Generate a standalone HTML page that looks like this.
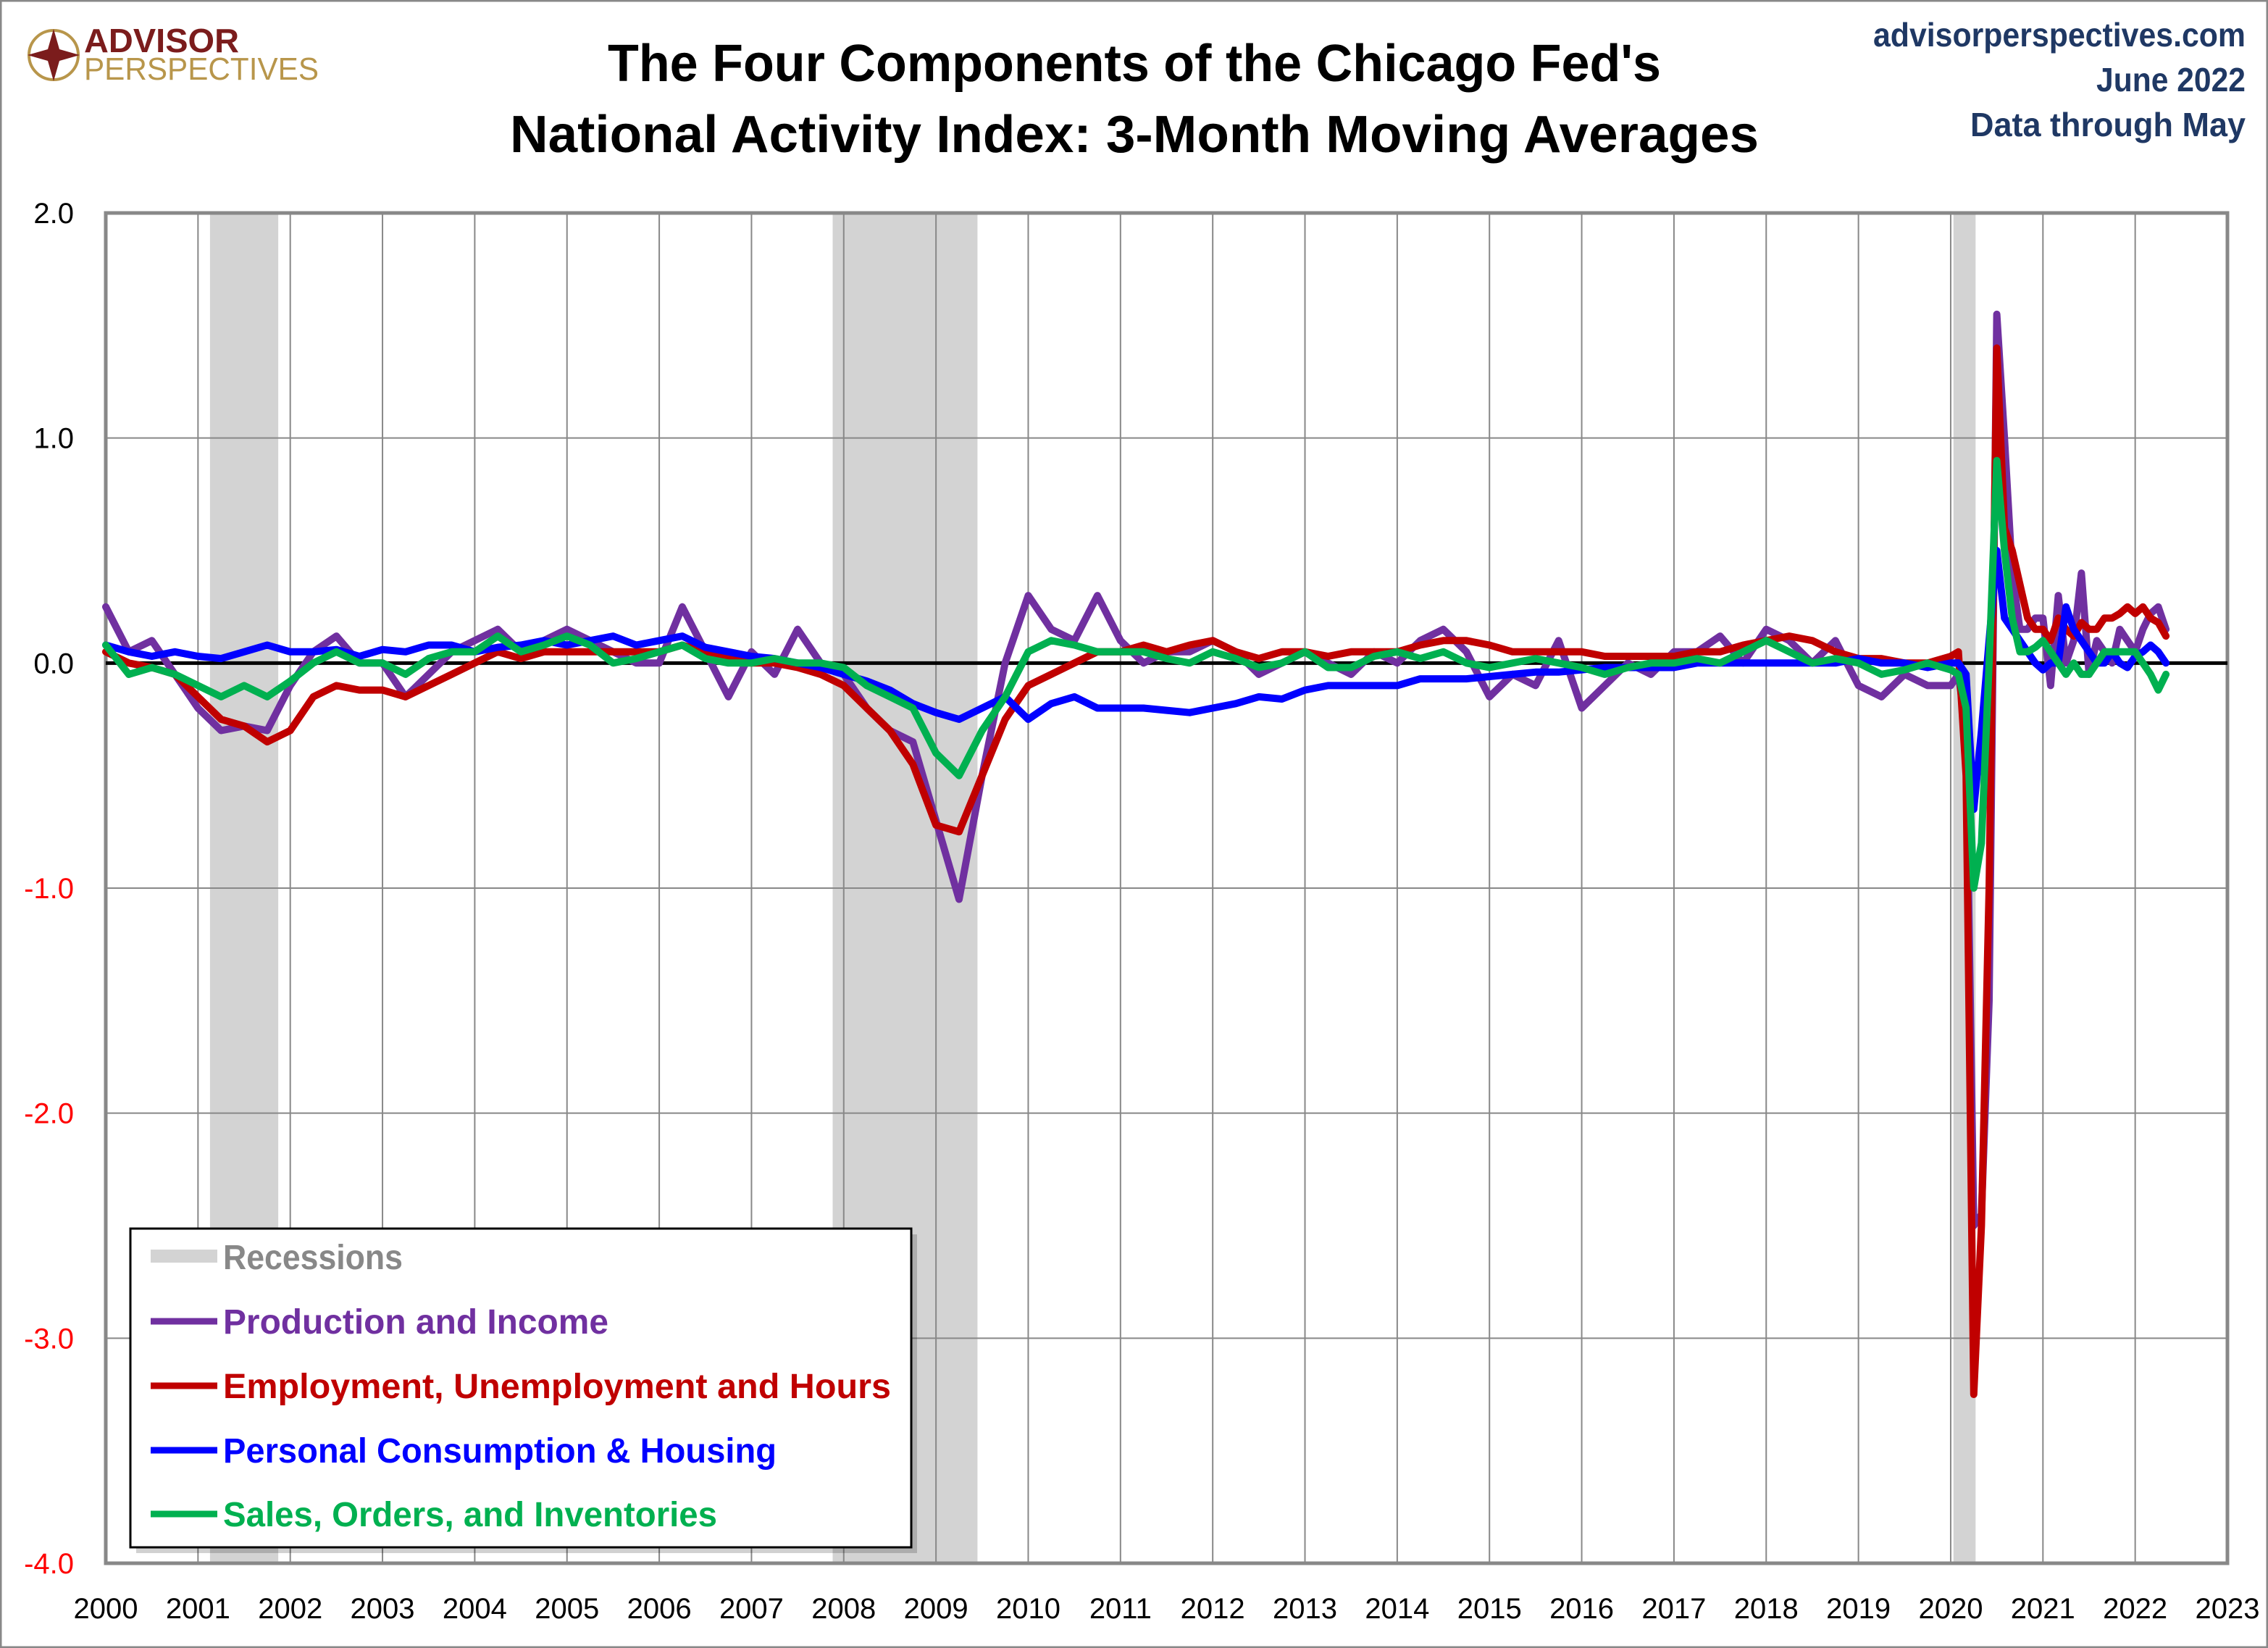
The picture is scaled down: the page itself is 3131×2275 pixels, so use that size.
<!DOCTYPE html>
<html><head><meta charset="utf-8"><style>
html,body{margin:0;padding:0;background:#fff}
svg{display:block}
text{font-family:"Liberation Sans",sans-serif}
</style></head><body>
<svg id="chart" width="3131" height="2275" viewBox="0 0 3131 2275" xmlns="http://www.w3.org/2000/svg">
<rect x="1" y="1" width="3129" height="2273" fill="#fff" stroke="#888" stroke-width="3"/>
<g>
<circle cx="74" cy="76" r="34" fill="none" stroke="#B8964B" stroke-width="4"/>
<polygon points="74,40 82,68 110,76 82,84 74,112 66,84 38,76 66,68" fill="#7B1C1C"/>
<text x="116" y="72" font-size="46" font-weight="bold" fill="#7B1C1C" textLength="214" lengthAdjust="spacingAndGlyphs">ADVISOR</text>
<text x="116" y="110" font-size="44" fill="#B8964B" textLength="324" lengthAdjust="spacingAndGlyphs">PERSPECTIVES</text>
</g>
<text x="1566" y="112" font-size="72" font-weight="bold" text-anchor="middle" textLength="1454" lengthAdjust="spacingAndGlyphs">The Four Components of the Chicago Fed's</text>
<text x="1566" y="210" font-size="72" font-weight="bold" text-anchor="middle" textLength="1724" lengthAdjust="spacingAndGlyphs">National Activity Index: 3-Month Moving Averages</text>
<text x="3100" y="64" font-size="46" font-weight="bold" fill="#1F3864" text-anchor="end" textLength="514" lengthAdjust="spacingAndGlyphs">advisorperspectives.com</text>
<text x="3100" y="126" font-size="46" font-weight="bold" fill="#1F3864" text-anchor="end" textLength="206" lengthAdjust="spacingAndGlyphs">June 2022</text>
<text x="3100" y="188" font-size="46" font-weight="bold" fill="#1F3864" text-anchor="end" textLength="380" lengthAdjust="spacingAndGlyphs">Data through May</text>
<g id="plot"></g>
<g>
<rect x="188" y="1704" width="1078" height="440" fill="#000" opacity="0.18"/>
<rect x="180" y="1696" width="1078" height="440" fill="#fff" stroke="#000" stroke-width="3"/>
<g><line x1="208" y1="1734" x2="300" y2="1734" stroke="#d3d3d3" stroke-width="18"/><text x="308" y="1752" font-size="48" font-weight="bold" fill="#888" textLength="248" lengthAdjust="spacingAndGlyphs">Recessions</text></g>
<g><line x1="208" y1="1824" x2="300" y2="1824" stroke="#7030A0" stroke-width="9"/><text x="308" y="1841" font-size="48" font-weight="bold" fill="#7030A0" textLength="532" lengthAdjust="spacingAndGlyphs">Production and Income</text></g>
<g><line x1="208" y1="1913" x2="300" y2="1913" stroke="#C00000" stroke-width="9"/><text x="308" y="1930" font-size="48" font-weight="bold" fill="#C00000" textLength="922" lengthAdjust="spacingAndGlyphs">Employment, Unemployment and Hours</text></g>
<g><line x1="208" y1="2002" x2="300" y2="2002" stroke="#0000FF" stroke-width="9"/><text x="308" y="2019" font-size="48" font-weight="bold" fill="#0000FF" textLength="764" lengthAdjust="spacingAndGlyphs">Personal Consumption &amp; Housing</text></g>
<g><line x1="208" y1="2090" x2="300" y2="2090" stroke="#00B050" stroke-width="9"/><text x="308" y="2107" font-size="48" font-weight="bold" fill="#00B050" textLength="682" lengthAdjust="spacingAndGlyphs">Sales, Orders, and Inventories</text></g>
</g>
</svg>
<script>
const recessionStarts=[2001.13,2007.88,2020.03];
const recessionEnds=[2001.87,2009.45,2020.27];
const yTicks=[2,1,0,-1,-2,-3,-4];
const yTickLabels=["2.0","1.0","0.0","-1.0","-2.0","-3.0","-4.0"];
const xYears=[2000,2001,2002,2003,2004,2005,2006,2007,2008,2009,2010,2011,2012,2013,2014,2015,2016,2017,2018,2019,2020,2021,2022,2023];
const production=[0.25,0.05,0.1,-0.05,-0.2,-0.3,-0.28,-0.3,-0.1,0.05,0.12,0.0,0.0,-0.15,-0.05,0.05,0.1,0.15,0.05,0.1,0.15,0.1,0.05,0.0,0.0,0.25,0.05,-0.15,0.05,-0.05,0.15,0.0,-0.05,-0.2,-0.3,-0.35,-0.7,-1.05,-0.5,0.0,0.3,0.15,0.1,0.3,0.1,0.0,0.05,0.05,0.1,0.05,-0.05,0.0,0.05,0.0,-0.05,0.05,0.0,0.1,0.15,0.05,-0.15,-0.05,-0.1,0.1,-0.2,-0.1,0.0,-0.05,0.05,0.05,0.12,0.0,0.15,0.1,0.0,0.1,-0.1,-0.15,-0.05,-0.1,
-0.1,-0.05,-0.3,-2.5,-2.45,-1.5,1.55,1.0,0.4,0.15,0.15,0.2,0.2,-0.1,0.3,0.0,0.1,0.4,-0.05,0.1,0.05,0.0,0.15,0.1,0.05,0.15,0.22,0.25,0.15];
const employment=[0.05,0.0,-0.02,-0.05,-0.15,-0.25,-0.28,-0.35,-0.3,-0.15,-0.1,-0.12,-0.12,-0.15,-0.1,-0.05,0.0,0.05,0.02,0.05,0.05,0.05,0.05,0.05,0.05,0.08,0.05,0.02,0.0,0.0,-0.02,-0.05,-0.1,-0.2,-0.3,-0.45,-0.72,-0.75,-0.5,-0.25,-0.1,-0.05,0.0,0.05,0.05,0.08,0.05,0.08,0.1,0.05,0.02,0.05,0.05,0.03,0.05,0.05,0.05,0.08,0.1,0.1,0.08,0.05,0.05,0.05,0.05,0.03,0.03,0.03,0.03,0.05,0.05,0.08,0.1,0.12,0.1,0.05,0.02,0.02,0.0,0.0,
0.03,0.05,-0.5,-3.25,-2.5,-1.0,1.4,0.6,0.5,0.35,0.2,0.15,0.15,0.1,0.2,0.15,0.12,0.18,0.15,0.15,0.2,0.2,0.22,0.25,0.22,0.25,0.2,0.18,0.12];
const consumption=[0.08,0.05,0.03,0.05,0.03,0.02,0.05,0.08,0.05,0.05,0.06,0.03,0.06,0.05,0.08,0.08,0.05,0.07,0.08,0.1,0.08,0.1,0.12,0.08,0.1,0.12,0.07,0.05,0.03,0.02,0.0,-0.02,-0.05,-0.08,-0.12,-0.18,-0.22,-0.25,-0.2,-0.15,-0.25,-0.18,-0.15,-0.2,-0.2,-0.2,-0.21,-0.22,-0.2,-0.18,-0.15,-0.16,-0.12,-0.1,-0.1,-0.1,-0.1,-0.07,-0.07,-0.07,-0.06,-0.05,-0.04,-0.04,-0.03,-0.02,-0.02,-0.02,-0.02,0.0,0.0,0.0,0.0,0.0,0.0,0.0,0.02,0.0,0.0,-0.02,
0.0,0.0,-0.05,-0.65,-0.3,0.1,0.5,0.2,0.15,0.1,0.05,0.0,-0.03,0.0,0.0,0.25,0.15,0.1,0.05,0.0,0.0,0.05,0.0,-0.02,0.03,0.05,0.08,0.05,0.0];
const sales=[0.08,-0.05,-0.02,-0.05,-0.1,-0.15,-0.1,-0.15,-0.08,0.0,0.05,0.0,0.0,-0.05,0.02,0.05,0.05,0.12,0.05,0.08,0.12,0.08,0.0,0.02,0.05,0.08,0.02,0.0,0.0,0.02,0.0,0.0,-0.02,-0.1,-0.15,-0.2,-0.4,-0.5,-0.3,-0.15,0.05,0.1,0.08,0.05,0.05,0.05,0.02,0.0,0.05,0.02,-0.02,0.0,0.05,-0.02,-0.02,0.03,0.05,0.02,0.05,0.0,-0.02,0.0,0.02,0.0,-0.02,-0.05,-0.02,0.0,0.0,0.02,0.0,0.05,0.1,0.05,0.0,0.02,0.0,-0.05,-0.03,0.0,
-0.03,-0.05,-0.2,-1.0,-0.8,0.0,0.9,0.5,0.2,0.05,0.05,0.07,0.1,0.05,0.0,-0.05,0.0,-0.05,-0.05,0.0,0.05,0.05,0.05,0.05,0.05,0.0,-0.05,-0.12,-0.05];
// dates: quarterly 2000-2019, monthly 2020-Jan to 2022-May
const dates=[];
for(let i=0;i<80;i++) dates.push(2000+i*0.25);
for(let i=0;i<29;i++) dates.push(2020+i/12);

const NS="http://www.w3.org/2000/svg";
const L=146,R=3075,T=294,B=2158,X0=2000,X1=2023,YMAX=2,YMIN=-4;
const xs=v=>L+(v-X0)/(X1-X0)*(R-L);
const ys=v=>T+(YMAX-v)/(YMAX-YMIN)*(B-T);
const plot=document.getElementById('plot');
function mk(tag,attrs){const e=document.createElementNS(NS,tag);for(const k in attrs)e.setAttribute(k,attrs[k]);plot.appendChild(e);return e;}
for(let i=0;i<recessionStarts.length;i++){
  const r=mk('rect',{x:xs(recessionStarts[i]),y:T,width:xs(recessionEnds[i])-xs(recessionStarts[i]),height:B-T,fill:'#d3d3d3'});
  
  
}
xYears.forEach(yr=>{
  const g=mk('line',{x1:xs(yr),x2:xs(yr),y1:T,y2:B,stroke:'#888','stroke-width':2});
  
  
  const t=mk('text',{x:xs(yr),y:2234,'font-size':40,'text-anchor':'middle',fill:'#000'});
  t.textContent=yr;
  
  
});
yTicks.forEach((v,i)=>{
  if(v!==0){const g=mk('line',{x1:L,x2:R,y1:ys(v),y2:ys(v),stroke:'#888','stroke-width':2});
  
  }
  const t=mk('text',{x:102,y:ys(v)+14,'font-size':40,'text-anchor':'end',fill:v<0?'#FF0000':'#000'});
  t.textContent=yTickLabels[i];
  
  
});
const fr=mk('rect',{x:L,y:T,width:R-L,height:B-T,fill:'none',stroke:'#888','stroke-width':5});


const zl=mk('line',{x1:L,x2:R,y1:ys(0),y2:ys(0),stroke:'#000','stroke-width':5});


function series(vals,color,name){
  const d=vals.map((v,i)=>(i?'L':'M')+xs(dates[i]).toFixed(1)+','+ys(v).toFixed(1)).join(' ');
  const p=mk('path',{d:d,fill:'none',stroke:color,'stroke-width':10,'stroke-linejoin':'round','stroke-linecap':'round'});
  
  
}
series(production,'#7030A0','production-income-line');
series(employment,'#C00000','employment-line');
series(consumption,'#0000FF','consumption-housing-line');
series(sales,'#00B050','sales-orders-line');
</script>
</body></html>
